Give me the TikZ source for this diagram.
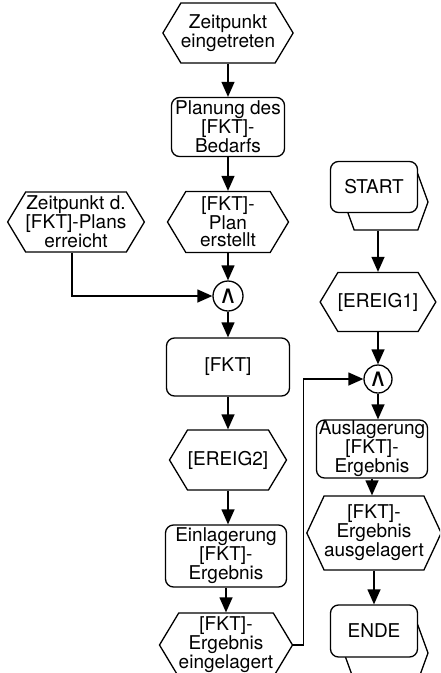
\documentclass[tikz,border=0pt]{standalone}
\usepackage{fontspec}
\setmainfont{TeX Gyre Heros}
\newfontfamily\symbfont{DejaVu Sans}
\usetikzlibrary{shapes.symbols,arrows.meta}

\begin{document}
\begin{tikzpicture}[x=1pt,y=-1pt,
    font=\fontsize{19}{17}\selectfont,
    linie/.style={line width=1.3pt, draw=black},
    ereignis/.style={linie, fill=white, signal, signal to=west and east,
      signal pointer angle=118, minimum width=118pt, minimum height=60pt,
      inner sep=0pt, align=center},
    funktion/.style={linie, fill=white, rectangle, rounded corners=8pt,
      minimum width=116pt, minimum height=59pt, inner sep=0pt, align=center},
    verkn/.style={linie, fill=white, circle, minimum size=29pt, inner sep=0pt,
      font=\symbfont\fontsize{25}{25}\selectfont},
    pfeil/.style={linie, -{Triangle[length=15pt,width=13pt]}}]

  % Page frame
  \clip (0,0) rectangle (440,673);

  % Left chain
  \node[ereignis, minimum width=119pt] (zpe) at (228,33) {Zeitpunkt\\eingetreten};
  \node[funktion, minimum width=113pt] (planung) at (228,127) {Planung des\\{[FKT]}-\\Bedarfs};
  \node[ereignis, minimum width=121pt, minimum height=61pt] (planerst) at (228,222) {{[FKT]}-\\Plan\\erstellt};
  \node[ereignis, minimum width=116pt] (zpdplan) at (76,222) {Zeitpunkt d.\\{[FKT]}-Plans\\erreicht};
  \node[verkn, minimum size=30pt] (und1) at (228,296) {∧};
  \node[funktion, minimum width=123pt, minimum height=58pt] (fkt) at (228,367) {{[FKT]}};
  \node[ereignis, minimum width=117pt] (ereig2) at (228,460) {{[EREIG2]}};
  \node[funktion, minimum width=121pt, minimum height=62pt] (einlag) at (226,556) {Einlagerung\\{[FKT]}-\\Ergebnis};
  \node[ereignis, minimum width=116pt, minimum height=64pt] (eingel) at (226,645) {{[FKT]}-\\Ergebnis\\eingelagert};

  % Right chain
  \node[ereignis, signal pointer angle=140, minimum width=84pt, minimum height=56pt] (startbg) at (386,202) {};
  \node[funktion, minimum width=87pt, minimum height=51pt] (startk) at (374,187) {START};
  \node[ereignis, minimum width=114pt, minimum height=59pt] (ereig1) at (378,302) {{[EREIG1]}};
  \node[verkn, minimum size=28pt] (und2) at (378,379) {∧};
  \node[funktion, minimum width=111pt, minimum height=58pt] (auslag) at (372,449) {Auslagerung\\{[FKT]}-\\Ergebnis};
  \node[ereignis, signal pointer angle=130, minimum width=114pt, minimum height=74pt] (ausgel) at (374,533) {{[FKT]}-\\Ergebnis\\ausgelagert};
  \node[ereignis, signal pointer angle=140, minimum width=84pt, minimum height=56pt] (endebg) at (386,653) {};
  \node[funktion, minimum width=87pt, minimum height=52pt] (endek) at (374,631) {ENDE};

  % Arrows
  \foreach \a/\b in {zpe/planung, planung/planerst, planerst/und1, und1/fkt,
      fkt/ereig2, ereig2/einlag, einlag/eingel,
      ereig1/und2, und2/auslag, auslag/ausgel, ausgel/endek} {
    \draw[pfeil] (\a.south) -- (\a.south |- \b.north);
  }
  \draw[pfeil] (startbg.south -| ereig1.north) -- (ereig1.north);
  \draw[pfeil] ([xshift=-4pt]zpdplan.south) |- (und1.west);
  \draw[pfeil] (eingel.east) -- ++(10,0) |- (und2.west);
\end{tikzpicture}
\end{document}
